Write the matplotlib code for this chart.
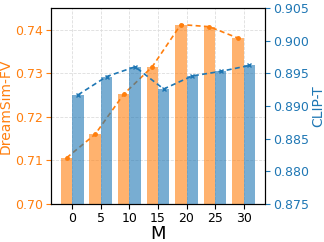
import numpy as np
from matplotlib import pyplot as plt

m_values = [0, 5, 10, 15, 20, 25, 30]
dreamsim_fv = [0.7106, 0.7160, 0.7252, 0.7315, 0.7412, 0.7407, 0.7381]
clip_t = [0.8917, 0.8945, 0.8960, 0.8926, 0.8946, 0.8953, 0.8962]

orange = "#ff7f0e"
blue = "#1f77b4"

x = np.arange(len(m_values))
width = 0.4

fig = plt.figure(figsize=(3.24, 2.42), dpi=100)
ax1 = fig.add_axes([0.157, 0.157, 0.661, 0.81])
ax2 = ax1.twinx()

ax1.bar(x - width / 2, dreamsim_fv, width, color=orange, alpha=0.6, zorder=2)
ax1.plot(x - width / 2, dreamsim_fv, "--", marker=".", color=orange, markersize=5,
         linewidth=1.2, dashes=(3, 2), zorder=3)
ax2.bar(x + width / 2, clip_t, width, color=blue, alpha=0.6, zorder=2)
ax2.plot(x + width / 2, clip_t, "--", marker="x", color=blue, markersize=3.5,
         linewidth=1.2, dashes=(3, 2), zorder=3)

ax1.set_ylim(0.70, 0.745)
ax1.set_yticks([0.70, 0.71, 0.72, 0.73, 0.74])
ax2.set_ylim(0.875, 0.905)
ax2.set_yticks([0.875, 0.880, 0.885, 0.890, 0.895, 0.900, 0.905])
ax1.set_xlim(-0.75, 6.75)
ax1.set_xticks(x)
ax1.set_xticklabels([str(m) for m in m_values])

ax1.grid(True, linestyle="--", color="#dddddd", linewidth=0.6, zorder=0)
ax1.set_axisbelow(True)

ax1.set_xlabel("M", fontsize=13, labelpad=0)
ax1.set_ylabel("DreamSim-FV", color=orange, fontsize=10, labelpad=2)
ax2.set_ylabel("CLIP-T", color=blue, fontsize=10, labelpad=2)
ax1.tick_params(axis="y", colors=orange, labelsize=9, pad=2)
ax1.tick_params(axis="x", labelsize=9, pad=2)
ax2.tick_params(axis="y", colors=blue, labelsize=9, pad=2)

plt.savefig("out.png", dpi=100)
